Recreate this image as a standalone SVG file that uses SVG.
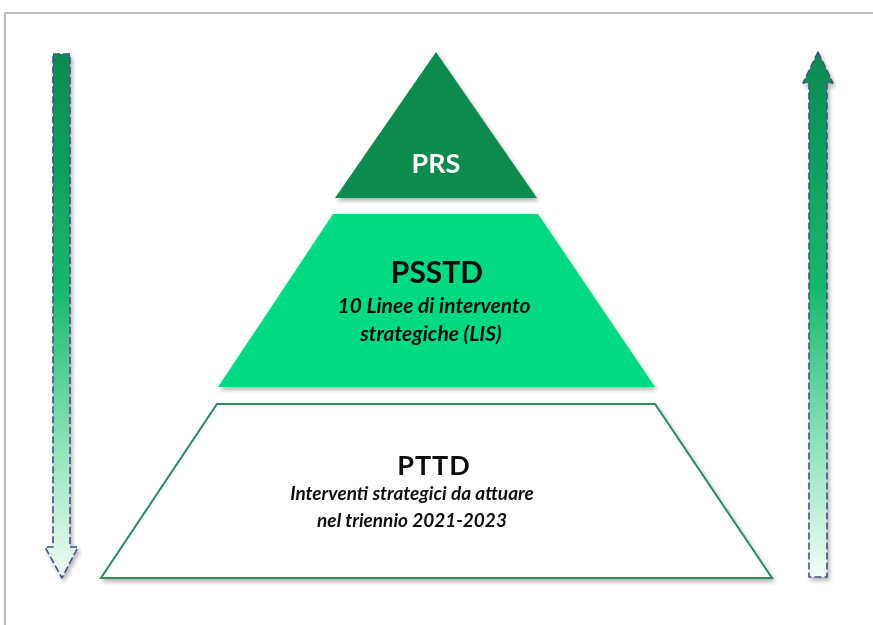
<svg xmlns="http://www.w3.org/2000/svg" width="873" height="625" viewBox="0 0 873 625">
  <defs>
    <linearGradient id="arrowFill" x1="0" y1="0" x2="0" y2="1">
      <stop offset="0" stop-color="#0a8a50"/>
      <stop offset="0.45" stop-color="#17b86c"/>
      <stop offset="0.75" stop-color="#8fe3bb"/>
      <stop offset="1" stop-color="#f2fcf7"/>
    </linearGradient>
    <filter id="shadow" x="-10%" y="-10%" width="120%" height="125%">
      <feGaussianBlur in="SourceAlpha" stdDeviation="2"/>
      <feOffset dx="2" dy="3" result="off"/>
      <feComponentTransfer><feFuncA type="linear" slope="0.3"/></feComponentTransfer>
      <feMerge><feMergeNode/><feMergeNode in="SourceGraphic"/></feMerge>
    </filter>
  </defs>
  <style>
    .frame { fill: #ffffff; stroke: #a8a8a8; stroke-width: 1.5; }
    .arrow { fill: url(#arrowFill); stroke: #3f5188; stroke-width: 1.6; stroke-dasharray: 7 3; stroke-linejoin: round; }
    .lbl { font-family: Lato, "Open Sans", "Liberation Sans", sans-serif; text-anchor: middle; }
    .title { font-weight: bold; }
    .sub { font-weight: bold; font-style: italic; fill: #111111; }
  </style>

  <!-- page frame -->
  <rect class="frame" x="5" y="13" width="880" height="640" filter="url(#shadow)"/>

  <!-- side arrows -->
  <g id="arrow-down" filter="url(#shadow)">
    <path class="arrow" d="M53 54 H70 V547 H78 L62 578 L45 547 H53 Z"/>
  </g>
  <g id="arrow-up" filter="url(#shadow)">
    <path class="arrow" d="M818 52 L833 83 H827 V577 H809 V83 H803 Z"/>
  </g>

  <!-- pyramid levels -->
  <g id="prs" filter="url(#shadow)">
    <polygon points="436,52 537,198 335,198" fill="#0e8b50"/>
    <text class="lbl title" x="436" y="173" font-size="27" fill="#ffffff">PRS</text>
  </g>

  <g id="psstd" filter="url(#shadow)">
    <polygon points="333,214 538,214 655,387 218,387" fill="#00d983"/>
    <text class="lbl title" x="437" y="283" font-size="30" fill="#111111">PSSTD</text>
    <text class="lbl sub" x="434" y="313" font-size="21">10 Linee di intervento</text>
    <text class="lbl sub" x="431" y="341" font-size="21">strategiche (LIS)</text>
  </g>

  <g id="pttd" filter="url(#shadow)">
    <polygon points="217,404 655,404 772,578 101,578" fill="#ffffff" stroke="#2e8b5f" stroke-width="2"/>
    <text class="lbl title" x="434" y="475" font-size="27" fill="#111111" letter-spacing="1">PTTD</text>
    <text class="lbl sub" x="412" y="500" font-size="19">Interventi strategici da attuare</text>
    <text class="lbl sub" x="412" y="527" font-size="19">nel triennio 2021-2023</text>
  </g>

  <g id="connectors"></g>
</svg>
